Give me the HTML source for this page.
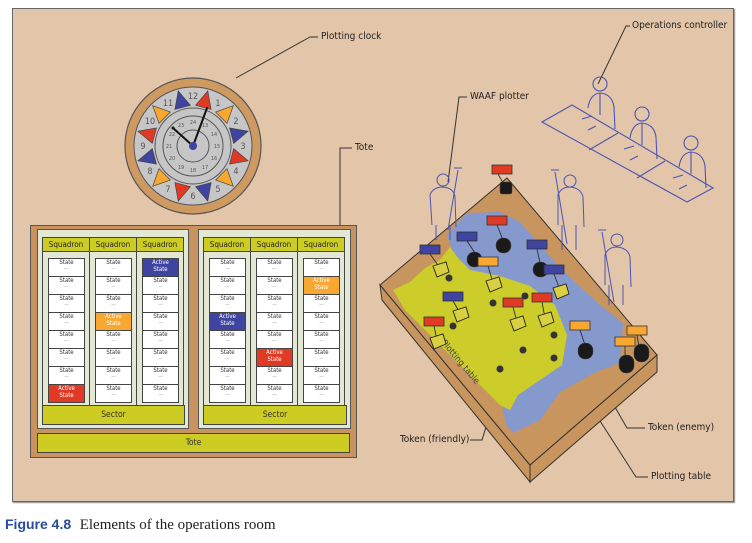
<!DOCTYPE html>
<html><head><meta charset="utf-8"><style>
body{margin:0;width:752px;height:543px;background:#fff;position:relative;overflow:hidden;font-family:"DejaVu Sans Condensed","Liberation Sans",sans-serif}
.panel{position:absolute;left:12px;top:8px;width:720px;height:492px;background:#e3c5a9;border:1px solid #666;box-shadow:1px 1px 1px #888}
.abs{position:absolute}
.tote{position:absolute;left:30px;top:225px;width:325px;height:231px;background:#c8935e;border:1px solid #555}
.inner{position:absolute;background:#e3e8d5;border:1px solid #555}
.col{position:absolute;top:7px;width:46px;height:173px;border:1px solid #444;background:#e3e8d5}
.hd{height:13px;background:#cccc22;border-bottom:1px solid #444;font-size:8px;line-height:13px;text-align:center;color:#222}
.cell{position:absolute;left:5px;width:35px;height:16.5px;background:#fff;border:1px solid #444;font-size:6px;line-height:7px;text-align:center;color:#333;box-sizing:content-box}
.cell i{display:block;font-style:normal;font-size:5px;color:#999;line-height:6px}
.a{color:#fff}
.bar{position:absolute;background:#cccc22;border:1px solid #444;font-size:8.5px;text-align:center;color:#333}
.lbl{position:absolute;font-size:10px;color:#222;white-space:nowrap}
.cap{position:absolute;left:5px;top:515px;font-size:15px;white-space:nowrap}
</style></head><body>
<div class="panel"></div>

<div class="tote">
 <div class="inner" style="left:6px;top:3px;width:150px;height:198px">
  <div class="col" style="left:4px"><div class="hd">Squadron</div>
   <div class="cell" style="top:20px">State<i>—</i></div><div class="cell" style="top:38px">State<i>—</i></div><div class="cell" style="top:56px">State<i>—</i></div><div class="cell" style="top:74px">State<i>—</i></div><div class="cell" style="top:92px">State<i>—</i></div><div class="cell" style="top:110px">State<i>—</i></div><div class="cell" style="top:128px">State<i>—</i></div><div class="cell a" style="top:146px;background:#e03a24">Active<br>State</div>
  </div>
  <div class="col" style="left:51px"><div class="hd">Squadron</div>
   <div class="cell" style="top:20px">State<i>—</i></div><div class="cell" style="top:38px">State<i>—</i></div><div class="cell" style="top:56px">State<i>—</i></div><div class="cell a" style="top:74px;background:#f8a830">Active<br>State</div><div class="cell" style="top:92px">State<i>—</i></div><div class="cell" style="top:110px">State<i>—</i></div><div class="cell" style="top:128px">State<i>—</i></div><div class="cell" style="top:146px">State<i>—</i></div>
  </div>
  <div class="col" style="left:98px"><div class="hd">Squadron</div>
   <div class="cell a" style="top:20px;background:#3e44a0">Active<br>State</div><div class="cell" style="top:38px">State<i>—</i></div><div class="cell" style="top:56px">State<i>—</i></div><div class="cell" style="top:74px">State<i>—</i></div><div class="cell" style="top:92px">State<i>—</i></div><div class="cell" style="top:110px">State<i>—</i></div><div class="cell" style="top:128px">State<i>—</i></div><div class="cell" style="top:146px">State<i>—</i></div>
  </div>
  <div class="bar" style="left:4px;top:175px;width:141px;height:18px;line-height:18px">Sector</div>
 </div>
 <div class="inner" style="left:167px;top:3px;width:151px;height:198px">
  <div class="col" style="left:4px"><div class="hd">Squadron</div>
   <div class="cell" style="top:20px">State<i>—</i></div><div class="cell" style="top:38px">State<i>—</i></div><div class="cell" style="top:56px">State<i>—</i></div><div class="cell a" style="top:74px;background:#3e44a0">Active<br>State</div><div class="cell" style="top:92px">State<i>—</i></div><div class="cell" style="top:110px">State<i>—</i></div><div class="cell" style="top:128px">State<i>—</i></div><div class="cell" style="top:146px">State<i>—</i></div>
  </div>
  <div class="col" style="left:51px"><div class="hd">Squadron</div>
   <div class="cell" style="top:20px">State<i>—</i></div><div class="cell" style="top:38px">State<i>—</i></div><div class="cell" style="top:56px">State<i>—</i></div><div class="cell" style="top:74px">State<i>—</i></div><div class="cell" style="top:92px">State<i>—</i></div><div class="cell a" style="top:110px;background:#e03a24">Active<br>State</div><div class="cell" style="top:128px">State<i>—</i></div><div class="cell" style="top:146px">State<i>—</i></div>
  </div>
  <div class="col" style="left:98px"><div class="hd">Squadron</div>
   <div class="cell" style="top:20px">State<i>—</i></div><div class="cell a" style="top:38px;background:#f8a830">Active<br>State</div><div class="cell" style="top:56px">State<i>—</i></div><div class="cell" style="top:74px">State<i>—</i></div><div class="cell" style="top:92px">State<i>—</i></div><div class="cell" style="top:110px">State<i>—</i></div><div class="cell" style="top:128px">State<i>—</i></div><div class="cell" style="top:146px">State<i>—</i></div>
  </div>
  <div class="bar" style="left:4px;top:175px;width:142px;height:18px;line-height:18px">Sector</div>
 </div>
 <div class="bar" style="left:6px;top:207px;width:311px;height:18px;line-height:18px">Tote</div>
</div>

<svg class="abs" style="left:0;top:0" width="752" height="543" viewBox="0 0 752 543">
 <g stroke="#333" stroke-width="1" fill="none">
  <polyline points="236,78 310,37 318,37"/>
  <polyline points="340,225 340,148 352,148"/>
  <polyline points="448,182 459,97 467,97"/>
  <polyline points="598,84 626,26 630,26"/>
  <polyline points="518,323 482,440 470,440"/>
  <polyline points="585,355 627,428 645,428"/>
  <polyline points="593,410 636,477 648,477"/>
 </g>
 <!-- clock -->
 <circle cx="193" cy="146" r="68" fill="#cf9a62" stroke="#555" stroke-width="1.2"/>
 <circle cx="193" cy="146" r="59" fill="#c6c6c6" stroke="#555"/>
 <g stroke="#444" stroke-width=".7">
  <polygon points="185,106 201,106 193,89" fill="#e03a24" transform="rotate(15 193 146)"/>
  <polygon points="185,106 201,106 193,89" fill="#f8a830" transform="rotate(45 193 146)"/>
  <polygon points="185,106 201,106 193,89" fill="#3e44a0" transform="rotate(75 193 146)"/>
  <polygon points="185,106 201,106 193,89" fill="#e03a24" transform="rotate(105 193 146)"/>
  <polygon points="185,106 201,106 193,89" fill="#f8a830" transform="rotate(135 193 146)"/>
  <polygon points="185,106 201,106 193,89" fill="#3e44a0" transform="rotate(165 193 146)"/>
  <polygon points="185,106 201,106 193,89" fill="#e03a24" transform="rotate(195 193 146)"/>
  <polygon points="185,106 201,106 193,89" fill="#f8a830" transform="rotate(225 193 146)"/>
  <polygon points="185,106 201,106 193,89" fill="#3e44a0" transform="rotate(255 193 146)"/>
  <polygon points="185,106 201,106 193,89" fill="#e03a24" transform="rotate(285 193 146)"/>
  <polygon points="185,106 201,106 193,89" fill="#f8a830" transform="rotate(315 193 146)"/>
  <polygon points="185,106 201,106 193,89" fill="#3e44a0" transform="rotate(345 193 146)"/>
 </g>
 <circle cx="193" cy="146" r="38" fill="#c6c6c6" stroke="#555"/>
 <circle cx="193" cy="146" r="30" fill="none" stroke="#555"/>
 <circle cx="193" cy="146" r="16" fill="none" stroke="#555"/>
 <g font-family="DejaVu Sans Condensed,Liberation Sans,sans-serif" font-size="9" fill="#555" text-anchor="middle">
  <text x="218" y="106">1</text><text x="236" y="124">2</text><text x="243" y="149">3</text><text x="236" y="174">4</text><text x="218" y="192">5</text><text x="193" y="199">6</text><text x="168" y="192">7</text><text x="150" y="174">8</text><text x="143" y="149">9</text><text x="150" y="124">10</text><text x="168" y="106">11</text><text x="193" y="99">12</text>
 </g>
 <g font-family="DejaVu Sans Condensed,Liberation Sans,sans-serif" font-size="5.5" fill="#555" text-anchor="middle">
  <text x="205" y="127">13</text><text x="214" y="136">14</text><text x="217" y="148">15</text><text x="214" y="160">16</text><text x="205" y="169">17</text><text x="193" y="172">18</text><text x="181" y="169">19</text><text x="172" y="160">20</text><text x="169" y="148">21</text><text x="172" y="136">22</text><text x="181" y="127">23</text><text x="193" y="124">24</text>
 </g>
 <g stroke="#111" stroke-width="2" stroke-linecap="round"><line x1="193" y1="146" x2="207" y2="108"/><line x1="193" y1="146" x2="173" y2="128"/></g>
 <circle cx="173" cy="128" r="1.5" fill="#111"/>
 <circle cx="193" cy="146" r="4" fill="#3e44a0"/>

 <!-- desk & controllers -->
 <g stroke="#4a55b5" stroke-width="1.1" fill="none">
  <polygon points="542,122 572,105 713,188 687,202"/>
  <line x1="589" y1="150" x2="618" y2="133"/><line x1="637" y1="178" x2="665" y2="161"/>
  <circle cx="600" cy="84" r="7"/><path d="M588,108 q2,-14 12,-15 q12,1 14,14 l1,22 M600,93 v22 M592,116 l-10,3 M596,126 l-8,4"/>
  <circle cx="642" cy="114" r="7"/><path d="M630,138 q2,-14 12,-15 q12,1 14,14 l1,22 M642,123 v22 M634,146 l-10,3 M638,156 l-8,4"/>
  <circle cx="691" cy="143" r="7"/><path d="M679,167 q2,-14 12,-15 q12,1 14,14 l1,22 M691,152 v22 M683,175 l-10,3 M687,185 l-8,4"/>
 </g>

 <!-- table -->
 <polygon points="380,285 530,465 530,482 382,300" fill="#c8955e" stroke="#333"/>
 <polygon points="530,465 657,355 657,372 530,482" fill="#c8955e" stroke="#333"/>
 <polygon points="380,285 507,178 657,355 530,465" fill="#c8955e" stroke="#333"/>
 <path d="M447,235 L467,213 L500,212 L520,222 L560,268 L600,305 L623,323 L620,363 L596,372 L560,392 L540,420 L513,433 L506,425 L503,410 L500,385 Z" fill="#8599cc"/>
 <path d="M393,290 L410,282 L425,268 L440,260 L450,247 L458,258 L470,270 L500,276 L530,286 L555,305 L567,335 L562,365 L540,380 L518,395 L510,410 L500,405 L480,385 L455,360 L430,335 L405,310 Z" fill="#cccc2a"/>
 <text x="441" y="343" font-size="9" fill="#444" transform="rotate(50 441 343)" font-family="DejaVu Sans Condensed,sans-serif">Plotting table</text>
 <g fill="#333"><circle cx="449" cy="278" r="3.5"/><circle cx="493" cy="303" r="3.5"/><circle cx="525" cy="296" r="3.5"/><circle cx="453" cy="326" r="3.5"/><circle cx="554" cy="335" r="3.5"/><circle cx="523" cy="350" r="3.5"/><circle cx="500" cy="369" r="3.5"/><circle cx="554" cy="358" r="3.5"/></g>
 <g stroke="#222" stroke-width=".8">
  <line x1="498" y1="174" x2="506" y2="188"/><line x1="497" y1="225" x2="503" y2="240"/><line x1="467" y1="241" x2="475" y2="253"/><line x1="430" y1="254" x2="440" y2="268"/><line x1="488" y1="266" x2="493" y2="283"/><line x1="537" y1="249" x2="540" y2="263"/><line x1="554" y1="274" x2="560" y2="290"/><line x1="453" y1="301" x2="460" y2="313"/><line x1="513" y1="307" x2="517" y2="322"/><line x1="542" y1="302" x2="545" y2="318"/><line x1="434" y1="326" x2="437" y2="340"/><line x1="580" y1="330" x2="585" y2="345"/><line x1="637" y1="335" x2="640" y2="353"/><line x1="625" y1="346" x2="625" y2="364"/>
 </g>
 <g fill="#1a1a1a" stroke="#444" stroke-width=".5">
  <rect x="500" y="182" width="12" height="12" rx="2"/>
  <rect x="496" y="238" width="15" height="15" rx="7"/>
  <rect x="467" y="252" width="15" height="15" rx="7"/>
  <rect x="533" y="262" width="15" height="15" rx="7"/>
  <rect x="578" y="343" width="15" height="16" rx="7"/>
  <rect x="634" y="344" width="15" height="18" rx="7"/>
  <rect x="619" y="355" width="15" height="18" rx="7"/>
 </g>
 <g fill="#d8d040" stroke="#222" stroke-width=".9">
  <polygon points="433,266 446,262 449,272 437,277"/><polygon points="486,281 499,277 502,287 490,292"/><polygon points="553,288 566,284 569,294 557,299"/><polygon points="453,311 466,307 469,317 457,322"/><polygon points="510,320 523,316 526,326 514,331"/><polygon points="538,316 551,312 554,322 542,327"/><polygon points="430,338 443,334 446,344 434,349"/>
 </g>
 <g stroke="#333" stroke-width=".8">
  <rect x="492" y="165" width="20" height="9" fill="#e03a24"/>
  <rect x="487" y="216" width="20" height="9" fill="#e03a24"/>
  <rect x="457" y="232" width="20" height="9" fill="#3e44a0"/>
  <rect x="420" y="245" width="20" height="9" fill="#3e44a0"/>
  <rect x="478" y="257" width="20" height="9" fill="#f8a830"/>
  <rect x="527" y="240" width="20" height="9" fill="#3e44a0"/>
  <rect x="544" y="265" width="20" height="9" fill="#3e44a0"/>
  <rect x="443" y="292" width="20" height="9" fill="#3e44a0"/>
  <rect x="503" y="298" width="20" height="9" fill="#e03a24"/>
  <rect x="532" y="293" width="20" height="9" fill="#e03a24"/>
  <rect x="424" y="317" width="20" height="9" fill="#e03a24"/>
  <rect x="570" y="321" width="20" height="9" fill="#f8a830"/>
  <rect x="627" y="326" width="20" height="9" fill="#f8a830"/>
  <rect x="615" y="337" width="20" height="9" fill="#f8a830"/>
 </g>
 <g stroke="#4a55b5" stroke-width="1" fill="none">
  <circle cx="443" cy="180" r="6"/><path d="M432,225 l-2,-30 q3,-8 13,-8 q11,1 12,10 l1,30 M436,225 v15 M450,225 v15 M458,170 l-10,60 M454,168 h8"/>
  <circle cx="570" cy="181" r="6"/><path d="M558,225 l0,-30 q3,-8 12,-8 q11,1 13,10 l1,30 M562,225 v25 M576,225 v25 M555,172 l12,72 M551,170 h8"/>
  <circle cx="617" cy="240" r="6"/><path d="M605,285 l0,-30 q3,-8 12,-8 q11,1 13,10 l1,30 M609,285 v20 M623,285 v20 M602,232 l12,70 M598,230 h8"/>
 </g>
</svg>

<div class="lbl" style="left:321px;top:31px">Plotting clock</div>
<div class="lbl" style="left:355px;top:142px">Tote</div>
<div class="lbl" style="left:470px;top:91px">WAAF plotter</div>
<div class="lbl" style="left:632px;top:20px">Operations controller</div>
<div class="lbl" style="left:400px;top:434px">Token (friendly)</div>
<div class="lbl" style="left:648px;top:422px">Token (enemy)</div>
<div class="lbl" style="left:651px;top:471px">Plotting table</div>

<div class="cap"><span style="font-family:'Liberation Sans',sans-serif;font-weight:bold;color:#2a4aa0;font-size:14px">Figure 4.8</span>&nbsp; <span style="font-family:'Liberation Serif',serif;color:#222">Elements of the operations room</span></div>
</body></html>
